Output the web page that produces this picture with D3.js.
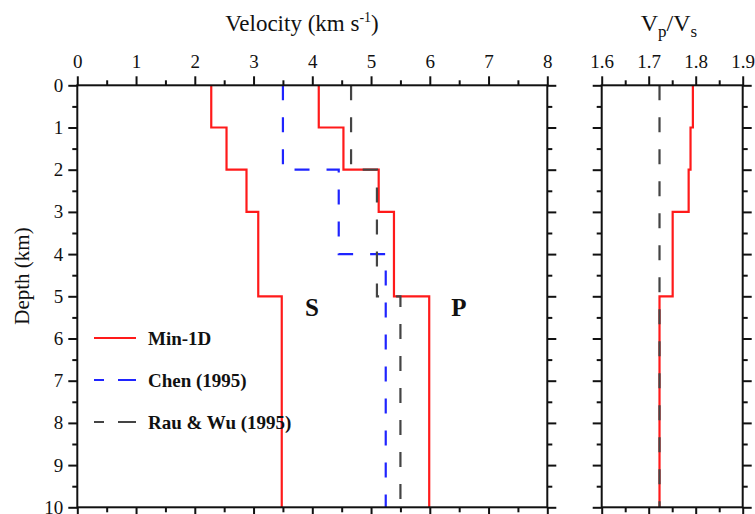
<!DOCTYPE html>
<html>
<head>
<meta charset="utf-8">
<script src="https://cdn.jsdelivr.net/npm/d3@7"></script>
<style>
  body { margin: 0; background: #fff; }
  svg text { font-family: "Liberation Serif", "Times New Roman", serif; fill: #111; }
</style>
</head>
<body>
<div id="chart"></div>
<script>
// layer boundaries (km) and values per layer
var minDepths = [0, 1, 2, 3, 5, 10];
var minVs = [2.28, 2.54, 2.88, 3.08, 3.48];
var minVp = [4.11, 4.53, 5.13, 5.39, 5.99];
var minVpVs = [1.794, 1.789, 1.785, 1.751, 1.723];

var chenDepths = [0, 2, 4, 10];
var chenVp = [3.5, 4.45, 5.25];

var rauDepths = [0, 2, 5, 10];
var rauVp = [4.66, 5.1, 5.5];
var rauVpVsDepths = [0, 10];
var rauVpVs = [1.723];

var velTicks = [0, 1, 2, 3, 4, 5, 6, 7, 8];
var velMinor = [0.5, 1.5, 2.5, 3.5, 4.5, 5.5, 6.5, 7.5];
var ratioTicks = [1.6, 1.7, 1.8, 1.9];
var ratioMinor = [1.65, 1.75, 1.85];
var depthTicks = [0, 1, 2, 3, 4, 5, 6, 7, 8, 9, 10];
var depthMinor = [0.5, 1.5, 2.5, 3.5, 4.5, 5.5, 6.5, 7.5, 8.5, 9.5];

var legendNames = ["Min-1D", "Chen (1995)", "Rau & Wu (1995)"];
var colours = ["#ff1a1a", "#1f24ff", "#444444"];

var width = 755, height = 514;
var yTop = 85.3, yBot = 507.3;

var svg = d3.select("#chart")
    .append("svg")
    .attr("width", width)
    .attr("height", height);

var x = d3.scaleLinear().domain([0, 8]).range([77.3, 547.3]);
var r = d3.scaleLinear().domain([1.6, 1.9]).range([601.7, 742.7]);
var y = d3.scaleLinear().domain([0, 10]).range([yTop, yBot]);

// turn layer arrays into staircase points
function steps(depths, vals){
    var pts = [];
    vals.forEach(function(v, i){
        pts.push([v, depths[i]]);
        pts.push([v, depths[i + 1]]);
    });
    return pts;
}

function addAxis(axis, tr){
    var g = svg.append("g").attr("transform", tr).call(axis);
    g.select(".domain").remove();
    g.selectAll("line").attr("stroke", "#111").attr("stroke-width", 2);
    g.selectAll("text").style("font-size", "19px").attr("fill", "#111");
    return g;
}

function drawAxes(xs, xt, xm, fmt){
    var x0 = xs.range()[0], x1 = xs.range()[1];
    addAxis(d3.axisTop(xs).tickValues(xt).tickSize(9).tickPadding(8).tickFormat(fmt),
        "translate(0," + yTop + ")");
    addAxis(d3.axisTop(xs).tickValues(xm).tickSize(5).tickFormat(""), "translate(0," + yTop + ")");
    addAxis(d3.axisBottom(xs).tickValues(xt).tickSize(9).tickFormat(""), "translate(0," + yBot + ")");
    addAxis(d3.axisBottom(xs).tickValues(xm).tickSize(5).tickFormat(""), "translate(0," + yBot + ")");
    addAxis(d3.axisRight(y).tickValues(depthTicks).tickSize(9).tickFormat(""), "translate(" + x1 + ",0)");
    addAxis(d3.axisRight(y).tickValues(depthMinor).tickSize(5).tickFormat(""), "translate(" + x1 + ",0)");
    addAxis(d3.axisLeft(y).tickValues(depthMinor).tickSize(5).tickFormat(""), "translate(" + x0 + ",0)");
    svg.append("rect")
        .attr("x", x0).attr("y", yTop)
        .attr("width", x1 - x0).attr("height", yBot - yTop)
        .attr("fill", "none").attr("stroke", "#111").attr("stroke-width", 2);
}

var line = function(xs){
    return d3.line().x(function(d){ return xs(d[0]); }).y(function(d){ return y(d[1]); });
};

function path(xs, pts, col, dash){
    svg.append("path")
        .attr("d", line(xs)(pts))
        .attr("fill", "none")
        .attr("stroke", col)
        .attr("stroke-width", 2.2)
        .attr("stroke-dasharray", dash);
}

// velocity panel
path(x, steps(minDepths, minVs), colours[0], null);
path(x, steps(minDepths, minVp), colours[0], null);
path(x, steps(chenDepths, chenVp), colours[1], "15,17");
path(x, steps(rauDepths, rauVp), colours[2], "15,17");

// vp/vs panel
path(r, steps(minDepths, minVpVs), colours[0], null);
path(r, steps(rauVpVsDepths, rauVpVs), colours[2], "15,17");

drawAxes(x, velTicks, velMinor, d3.format("d"));
drawAxes(r, ratioTicks, ratioMinor, d3.format(".1f"));

// depth labels on left, plain ticks on the ratio panel
addAxis(d3.axisLeft(y).tickValues(depthTicks).tickSize(9).tickPadding(5),
    "translate(" + x.range()[0] + ",0)");
addAxis(d3.axisLeft(y).tickValues(depthTicks).tickSize(9).tickFormat(""),
    "translate(" + r.range()[0] + ",0)");

// titles
var t1 = svg.append("text").attr("x", 302).attr("y", 31)
    .attr("text-anchor", "middle").style("font-size", "23px");
t1.append("tspan").text("Velocity (km s");
t1.append("tspan").attr("dy", -9).style("font-size", "14px").text("-1");
t1.append("tspan").attr("dy", 9).text(")");

var t2 = svg.append("text").attr("x", 669).attr("y", 31)
    .attr("text-anchor", "middle").style("font-size", "24px");
t2.append("tspan").text("V");
t2.append("tspan").attr("dy", 6).style("font-size", "17px").text("p");
t2.append("tspan").attr("dy", -6).text("/V");
t2.append("tspan").attr("dy", 6).style("font-size", "17px").text("s");

svg.append("text")
    .attr("transform", "translate(29,276) rotate(-90)")
    .attr("text-anchor", "middle")
    .style("font-size", "21px")
    .text("Depth (km)");

svg.append("text").attr("x", 312).attr("y", 316).attr("text-anchor", "middle")
    .style("font-size", "25px").style("font-weight", "bold").text("S");
svg.append("text").attr("x", 459).attr("y", 316).attr("text-anchor", "middle")
    .style("font-size", "25px").style("font-weight", "bold").text("P");

// legend
var legDash = [null, "10,14,18,14", "10,14,18,14"];
legendNames.forEach(function(name, i){
    var ly = 338 + i * 42;
    svg.append("line")
        .attr("x1", 94).attr("x2", 136)
        .attr("y1", ly).attr("y2", ly)
        .attr("stroke", colours[i]).attr("stroke-width", 2.2)
        .attr("stroke-dasharray", legDash[i]);
    svg.append("text").attr("x", 148).attr("y", ly + 6.5)
        .style("font-size", "19px").style("font-weight", "bold")
        .text(name);
});
</script>
</body>
</html>
